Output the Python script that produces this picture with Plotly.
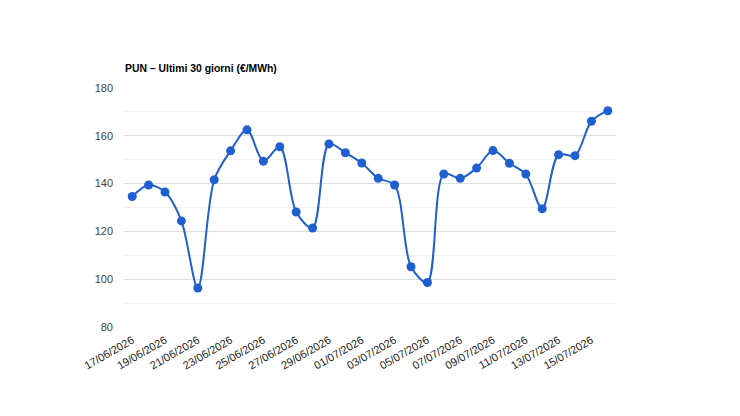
import plotly.graph_objects as go

dates = ["17/06/2026","18/06/2026","19/06/2026","20/06/2026","21/06/2026","22/06/2026",
         "23/06/2026","24/06/2026","25/06/2026","26/06/2026","27/06/2026","28/06/2026",
         "29/06/2026","30/06/2026","01/07/2026","02/07/2026","03/07/2026","04/07/2026",
         "05/07/2026","06/07/2026","07/07/2026","08/07/2026","09/07/2026","10/07/2026",
         "11/07/2026","12/07/2026","13/07/2026","14/07/2026","15/07/2026","16/07/2026"]
pun = [134.6, 139.4, 136.5, 124.4, 96.3, 141.6, 153.7, 162.5, 149.4, 155.4,
       128.1, 121.4, 156.6, 152.9, 148.6, 142.2, 139.4, 105.2, 98.6, 144.0,
       142.2, 146.5, 153.8, 148.5, 144.0, 129.5, 152.1, 151.7, 166.1, 170.5]
tick_labels = dates[::2]
title_text = "PUN – Ultimi 30 giorni (€/MWh)"

x_idx = list(range(len(dates)))

fig = go.Figure()
fig.add_trace(go.Scatter(
    x=x_idx, y=pun, mode="lines+markers",
    line=dict(color="#1f5fcf", width=2, shape="spline", smoothing=0.9),
    marker=dict(color="#1f5fcf", size=9),
    hovertext=dates, showlegend=False,
))

fig.update_layout(
    width=740, height=416,
    margin=dict(l=124, r=124, t=88, b=89),
    paper_bgcolor="white", plot_bgcolor="white",
    font=dict(family="Liberation Sans, Arial, sans-serif", size=11, color="#444444"),
    title=dict(text=title_text, x=125/740, xanchor="left", xref="container",
               y=1-68/416, yanchor="middle", yref="container",
               font=dict(size=10.4, color="#000000", family="Liberation Sans, Arial, sans-serif", weight="bold")),
    xaxis=dict(range=[-0.5, 29.5], tickmode="array", tickvals=x_idx[::2], ticktext=tick_labels,
               tickangle=-30, showgrid=False, zeroline=False, showline=False,
               ticklabelstandoff=4,
               tickfont=dict(size=11, color="#222222")),
    yaxis=dict(range=[80, 180], dtick=20, tick0=80, showgrid=True, gridcolor="#dddddd",
               gridwidth=1, zeroline=False, showline=False, ticklabelstandoff=10,
               tickfont=dict(size=11, color="#444444"),
               minor=dict(dtick=10, tick0=80, showgrid=True, gridcolor="#f2f2f2")),
)

fig.write_html("out.html")
